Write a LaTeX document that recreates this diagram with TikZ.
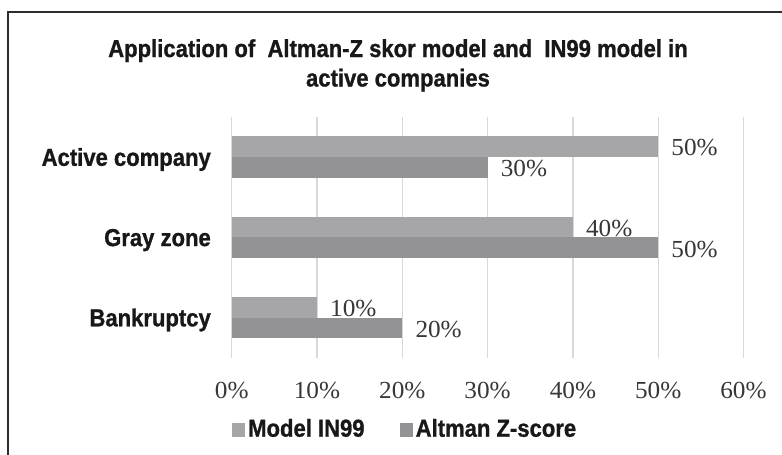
\documentclass[tikz,border=0pt]{standalone}
\usepackage{fontspec}
\newfontfamily\lblfont[FakeStretch=0.9,BoldFeatures={FakeStretch=0.9,FakeBold=1}]{Liberation Sans}
\newfontfamily\numfont[FakeStretch=1.03]{Liberation Serif}
\definecolor{barA}{RGB}{166,166,168}
\definecolor{barB}{RGB}{147,147,150}
\definecolor{gridc}{RGB}{217,217,217}
\definecolor{framec}{RGB}{45,45,45}
\definecolor{txtdark}{RGB}{24,24,24}
\definecolor{txtnum}{RGB}{55,55,55}
\tikzset{
  boldlbl/.style={font=\lblfont\bfseries\fontsize{24.5}{29}\selectfont, text=txtdark, inner sep=0pt},
  numlbl/.style={font=\numfont\fontsize{24.5}{29}\selectfont, text=txtnum, inner sep=0pt},
  gridline/.style={draw=gridc, line width=1.3pt},
  barin/.style={fill=barA},
  baralt/.style={fill=barB},
}
\begin{document}
\begin{tikzpicture}[x=1pt,y=-1pt]
\useasboundingbox (0,0) rectangle (782,455);
\fill[white] (0,0) rectangle (782,455);
% frame
\draw[framec, line width=2.3pt] (7.8,460) -- (7.8,12.2) -- (790,12.2);
% title
\node[boldlbl, anchor=base] (t1) at (398,57) {Application of~ Altman-Z skor model and~ IN99 model in};
\node[boldlbl, anchor=base] (t2) at (398,86.5) {active companies};
% gridlines and axis labels
\foreach \v/\n in {0/g0,10/g1,20/g2,30/g3,40/g4,50/g5,60/g6}{
  \coordinate (\n top) at ({231.7+8.53*\v},116.5);
  \coordinate (\n bot) at ({231.7+8.53*\v},358.3);
  \draw[gridline] (\n top) -- (\n bot);
  \node[numlbl, anchor=base] (\n lab) at ({231.7+8.53*\v},398.8) {\v\%};
}
% bars: (center y, IN99 value, Altman value)
\foreach \c/\a/\b/\n in {157/50/30/act,237.3/40/50/gray,317.5/10/20/bank}{
  \fill[barin] (231.7,\c-20.8) rectangle ({231.7+8.53*\a},\c);
  \node[numlbl, anchor=base west] (\n A) at ({231.7+8.53*\a+13},\c-10.4+9.3) {\a\%};
  \fill[baralt] (231.7,\c) rectangle ({231.7+8.53*\b},\c+20.8);
  \node[numlbl, anchor=base west] (\n B) at ({231.7+8.53*\b+13},\c+10.4+9.3) {\b\%};
}
% category labels
\node[boldlbl, anchor=base east] (cact) at (211,165.8) {Active company};
\node[boldlbl, anchor=base east] (cgray) at (211,246.1) {Gray zone};
\node[boldlbl, anchor=base east] (cbank) at (211,326.3) {Bankruptcy};
% legend
\fill[barA] (231.7,423.3) rectangle (245,436.7);
\node[boldlbl, anchor=base west] (legA) at (248,436.7) {Model IN99};
\fill[barB] (400,423.3) rectangle (413.3,436.7);
\node[boldlbl, anchor=base west] (legB) at (415.5,436.7) {Altman Z-score};
\end{tikzpicture}
\end{document}
